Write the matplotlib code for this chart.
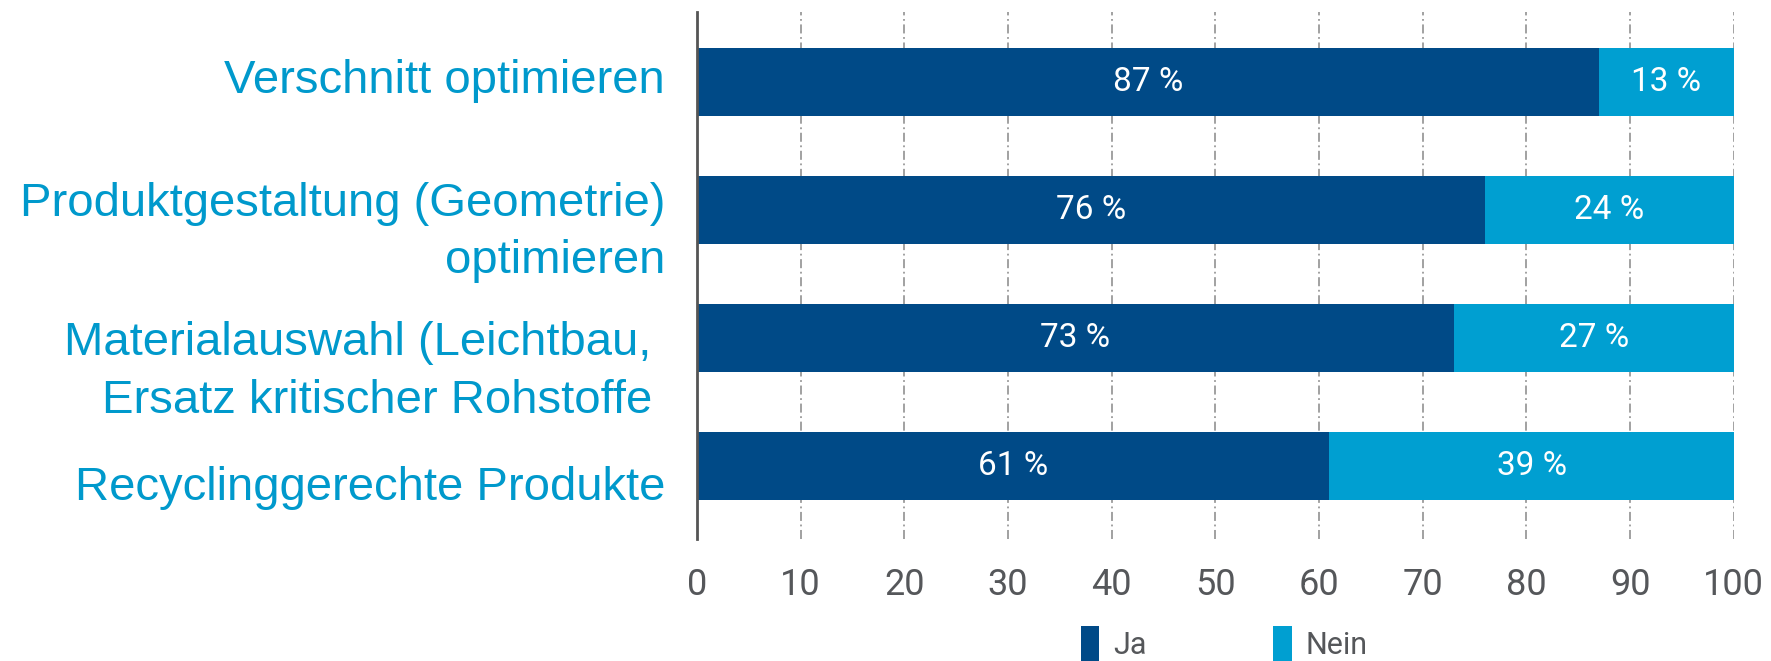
import matplotlib
matplotlib.use("Agg")
import matplotlib.pyplot as plt
from matplotlib import font_manager

categories = [
    "Verschnitt optimieren",
    "Produktgestaltung (Geometrie)\noptimieren",
    "Materialauswahl (Leichtbau, \nErsatz kritischer Rohstoffe ",
    "Recyclinggerechte Produkte",
]
ja = [87, 76, 73, 61]
nein = [13, 24, 27, 39]
series_names = ["Ja", "Nein"]
xticks = [0, 10, 20, 30, 40, 50, 60, 70, 80, 90, 100]

DARK = "#004a87"
LIGHT = "#009fd1"
LABEL_BLUE = "#0099cc"
GREY = "#55575a"

# the labels on the left don't sit exactly on the bars in the original
label_shift = [-0.05, 0.08, 0.17, 0.13]

# condensed font for numbers, if we have one
names = {f.name for f in font_manager.fontManager.ttflist}
if "Liberation Sans Narrow" in names:
    narrow = dict(family="Liberation Sans Narrow")
else:
    narrow = dict(family="Roboto")


def main():
    fig = plt.figure(figsize=(17.71, 6.61), dpi=100)
    ax = fig.add_axes([0.3935, 0.1846, 0.5855, 0.7972])

    y = list(range(len(categories)))
    b1 = ax.barh(y, ja, height=0.53, color=DARK, label=series_names[0], zorder=3)
    b2 = ax.barh(y, nein, left=ja, height=0.53, color=LIGHT, label=series_names[1], zorder=3)

    for bars, vals in ((b1, ja), (b2, nein)):
        ax.bar_label(bars, labels=[f"{v} %" for v in vals], label_type="center",
                     color="white", fontsize=24, **narrow)

    ax.set_xlim(0, 100)
    ax.set_ylim(3.57, -0.55)
    ax.set_xticks(xticks)
    ax.set_xticklabels([str(t) for t in xticks], fontsize=26, color=GREY, **narrow)
    ax.set_yticks([i + d for i, d in zip(y, label_shift)])
    ax.set_yticklabels(categories, fontsize=34, color=LABEL_BLUE,
                       family="Liberation Sans", linespacing=1.4)
    ax.tick_params(axis="x", length=0, pad=20)
    ax.tick_params(axis="y", length=0, pad=23)

    ax.grid(axis="x", color="#9a9a9a", linestyle=(0, (5, 2, 1, 2)), linewidth=1.3, zorder=0)
    for s in ("top", "right", "bottom"):
        ax.spines[s].set_visible(False)
    ax.spines["left"].set_color("#555555")
    ax.spines["left"].set_linewidth(2)
    ax.spines["left"].set_zorder(4)

    leg = fig.legend(handles=[b1, b2], loc="center left",
                     bbox_to_anchor=(1081 / 1771, 17 / 661), frameon=False, ncol=2,
                     handlelength=0.6, handleheight=1.4, handletextpad=0.45,
                     columnspacing=4.15, borderaxespad=0, borderpad=0,
                     prop=dict(size=22, **narrow))
    for t in leg.get_texts():
        t.set_color(GREY)

    fig.savefig("out.png", dpi=100)


if __name__ == "__main__":
    main()
